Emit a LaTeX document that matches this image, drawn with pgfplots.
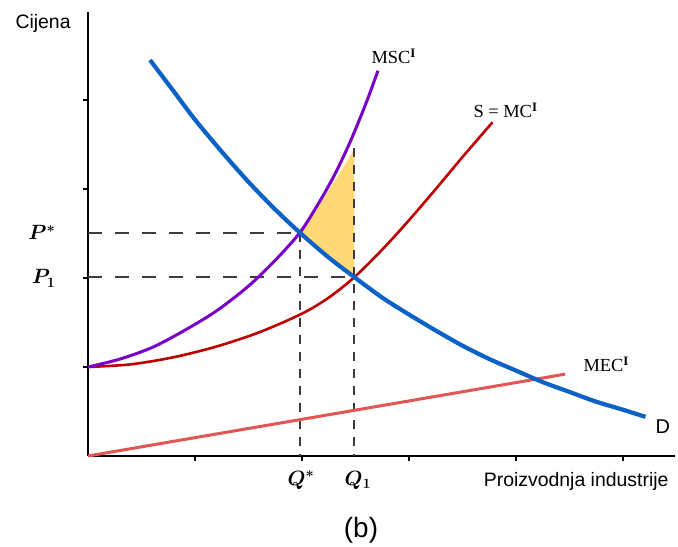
\documentclass[border=0pt]{standalone}
\usepackage{pgfplots}
\pgfplotsset{compat=1.18}
\usepackage{fontspec}
\setmainfont{Liberation Sans}
\newfontfamily\serifl{Liberation Serif}
\definecolor{dblue}{RGB}{10,98,198}
\definecolor{mpurple}{RGB}{120,0,200}
\definecolor{sred}{RGB}{190,0,0}
\definecolor{mecred}{RGB}{225,85,85}
\definecolor{yfill}{RGB}{255,217,120}
\definecolor{dgray}{RGB}{60,60,60}
\begin{document}
\begin{tikzpicture}
\useasboundingbox (-88bp,-91bp) rectangle (590bp,456bp);
\begin{axis}[
  at={(0,0)}, anchor=south west,
  scale only axis, width=587bp, height=444bp,
  xmin=0, xmax=5.486, ymin=0, ymax=4.99,
  axis lines=left, axis line style={-, line width=1.8bp, black},
  xtick={1,2,3,4,5}, ytick={1,2,3,4},
  xticklabels={}, yticklabels={},
  tick align=outside, major tick length=5bp,
  tick style={line width=1.4bp, black},
  clip=false,
]
% shaded area
\addplot[fill=yfill, draw=none] coordinates {(1.98,2.51) (2.15,2.80) (2.30,3.08) (2.43,3.33) (2.49,3.46) (2.49,2.01) (2.25,2.23) (1.98,2.51)} -- cycle;
% dashed guides
\addplot[dgray, line width=1.9bp, dash pattern=on 14bp off 13bp] coordinates {(0,2.51) (1.98,2.51)};
\addplot[dgray, line width=1.9bp, dash pattern=on 14bp off 13bp] coordinates {(0,2.01) (2.49,2.01)};
\addplot[dgray, line width=2bp, dash pattern=on 9bp off 8bp] coordinates {(1.98,2.51) (1.98,0)};
\addplot[dgray, line width=2bp, dash pattern=on 9bp off 8bp] coordinates {(2.49,3.46) (2.49,0)};
% MEC
\addplot[mecred, line width=3bp] coordinates {(0,0) (4.46,0.92)};
% S = MC
\addplot[sred, line width=2.6bp, smooth] coordinates {(0,1.00) (0.4,1.03) (0.8,1.11) (1.2,1.23) (1.6,1.39) (2.0,1.60) (2.25,1.78) (2.49,2.01) (2.75,2.32) (3.0,2.65) (3.25,3.00) (3.5,3.36) (3.78,3.75)};
% MSC
\addplot[mpurple, line width=3bp, smooth] coordinates {(0,1.00) (0.3,1.09) (0.6,1.22) (0.9,1.41) (1.2,1.63) (1.5,1.91) (1.75,2.20) (1.98,2.51) (2.15,2.83) (2.3,3.15) (2.45,3.53) (2.6,3.97) (2.71,4.33)};
% D
\addplot[dblue, line width=4.2bp, smooth] coordinates {(0.58,4.45) (0.8,4.10) (1.0,3.78) (1.25,3.42) (1.5,3.08) (1.75,2.77) (1.98,2.51) (2.25,2.23) (2.49,2.01) (2.75,1.78) (3.0,1.59) (3.25,1.41) (3.5,1.24) (3.75,1.09) (4.0,0.96) (4.25,0.83) (4.5,0.72) (4.75,0.61) (5.0,0.52) (5.21,0.44)};
\end{axis}
\node[anchor=base west, font=\fontsize{19.5}{22}\selectfont] at (-76bp,427bp) {Cijena};
\node[anchor=base east, font=\fontsize{21}{24}\selectfont\boldmath] at (-29bp,216bp) {$P^{*}$};
\node[anchor=base east, font=\fontsize{21}{24}\selectfont\boldmath] at (-29bp,172bp) {$P_{1}$};
\node[anchor=base, font=\fontsize{21}{24}\selectfont\boldmath] at (213bp,-29bp) {$Q^{*}$};
\node[anchor=base, font=\fontsize{21}{24}\selectfont\boldmath] at (270bp,-29bp) {$Q_{1}$};
\node[anchor=base east, font=\fontsize{19.5}{22}\selectfont] at (584bp,-30bp) {Proizvodnja industrije};
\node[anchor=center, font=\fontsize{28}{32}\selectfont] at (273bp,-74bp) {(b)};
\node[anchor=base west, font=\fontsize{18.5}{22}\selectfont\serifl] at (280bp,392bp) {MSC\textsuperscript{\textbf{I}}};
\node[anchor=base west, font=\fontsize{18.5}{22}\selectfont\serifl] at (382bp,338bp) {S = MC\textsuperscript{\textbf{I}}};
\node[anchor=base west, font=\fontsize{18.5}{22}\selectfont\serifl] at (492bp,84bp) {MEC\textsuperscript{\textbf{I}}};
\node[anchor=base west, font=\fontsize{20}{22}\selectfont] at (564bp,23bp) {D};
\end{tikzpicture}
\end{document}
